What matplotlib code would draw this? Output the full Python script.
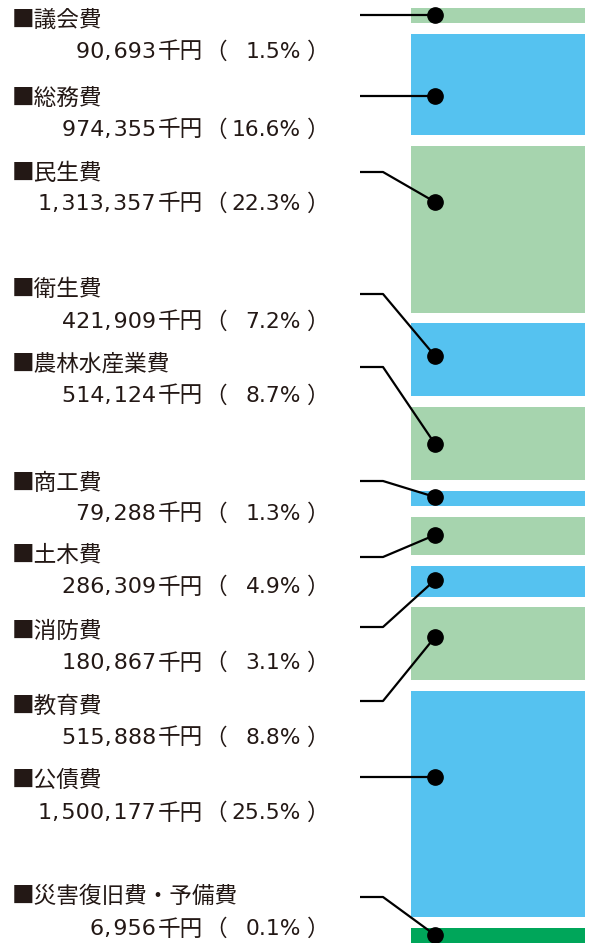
import numpy as np
import matplotlib as mpl
import matplotlib.pyplot as plt

mpl.rcParams['font.family'] = ['Noto Sans CJK JP', 'DejaVu Sans']

# ===================== Data =====================
categories = ["議会費", "総務費", "民生費", "衛生費", "農林水産業費", "商工費",
              "土木費", "消防費", "教育費", "公債費", "災害復旧費・予備費"]
amounts = [90693, 974355, 1313357, 421909, 514124, 79288,
           286309, 180867, 515888, 1500177, 6956]          # 千円
percents = [1.5, 16.6, 22.3, 7.2, 8.7, 1.3, 4.9, 3.1, 8.8, 25.5, 0.1]
# segment heights as drawn in the chart (not strictly proportional)
seg_heights = [15, 101, 167, 73, 73, 15, 38, 31, 73, 226, 15]
seg_colors = ["#A6D4AE", "#55C2F0", "#A6D4AE", "#55C2F0", "#A6D4AE", "#55C2F0",
              "#A6D4AE", "#55C2F0", "#A6D4AE", "#55C2F0", "#00A65A"]

# ===================== Layout (pixels) =====================
W, H = 592, 943
gap = 10.8
top = 8
bar_left, bar_right = 411, 585
dot_x = 435
dot_y = [15, 96, 202, 356, 444, 497, 535, 580, 637, 777, 935]
line_y = [15, 96, 172, 294, 367, 481, 557, 627, 701, 777, 897]
kink_x = 383
line_x0 = 360
name_y = [20, 98, 173, 290, 364, 483, 556, 631, 706, 780, 896]
val_y = [52, 130, 204, 322, 396, 514, 587, 663, 738, 813, 929]
txt_col = "#231815"

fig = plt.figure(figsize=(W / 100, H / 100), dpi=100)
ax = fig.add_axes([0, 0, 1, 1])
ax.set_xlim(0, W)
ax.set_ylim(H, 0)
ax.axis("off")

bottoms = top + np.concatenate([[0], np.cumsum(np.array(seg_heights[:-1]) + gap)])
ax.bar((bar_left + bar_right) / 2, seg_heights, bottom=bottoms,
       width=bar_right - bar_left, color=seg_colors, linewidth=0)

fs = 16.3
num_font = ['DejaVu Sans', 'Noto Sans CJK JP']
for i, name in enumerate(categories):
    # leader line
    if abs(line_y[i] - dot_y[i]) < 1:
        xs, ys = [line_x0, dot_x], [line_y[i], dot_y[i]]
    else:
        xs, ys = [line_x0, kink_x, dot_x], [line_y[i], line_y[i], dot_y[i]]
    ax.plot(xs, ys, color="black", lw=1.6, solid_capstyle="butt", zorder=3)
    ax.plot(dot_x, dot_y[i], "o", color="black", ms=11, zorder=4)

    ax.text(12, name_y[i], "■" + name, fontsize=fs, va="center", ha="left",
            color=txt_col)
    amt = f"{amounts[i]:,}".replace(",", ",\u200a")
    ax.text(156, val_y[i], amt, fontsize=16, family=num_font,
            va="center", ha="right", color=txt_col)
    ax.text(203, val_y[i], "千円", fontsize=fs, va="center", ha="right",
            color=txt_col)
    ax.text(227, val_y[i], "（", fontsize=fs, va="center", ha="right",
            color=txt_col)
    ax.text(301, val_y[i], f"{percents[i]:.1f}%", fontsize=15.7, family=num_font,
            va="center", ha="right", color=txt_col)
    ax.text(330, val_y[i], "）", fontsize=fs, va="center", ha="right",
            color=txt_col)

fig.savefig("out.png", dpi=100)
